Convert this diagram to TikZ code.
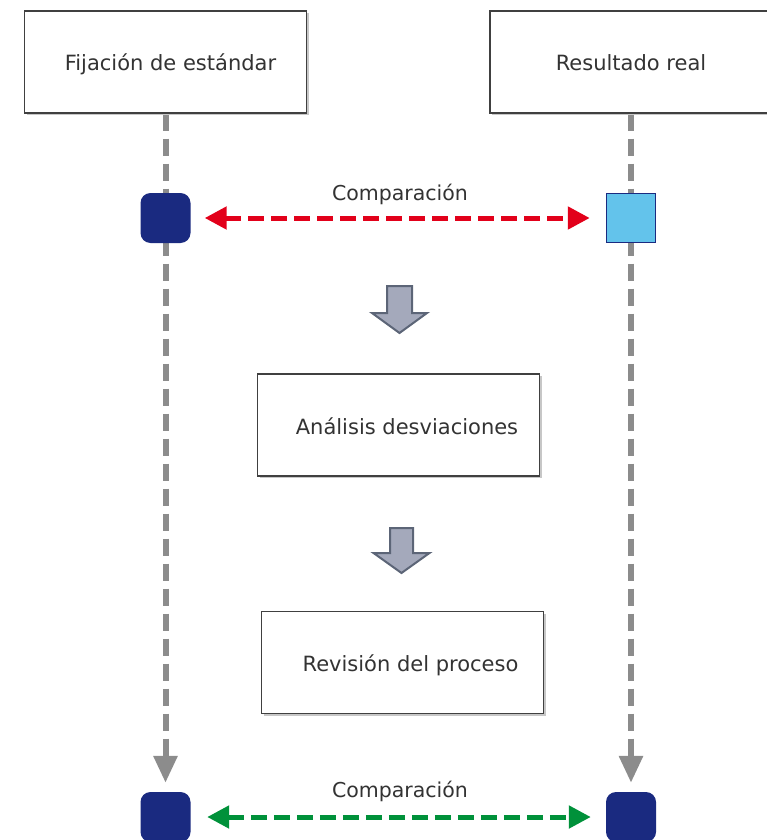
\documentclass[tikz,border=0pt]{standalone}
\usepackage{fontspec}
\setmainfont{DejaVu Sans}
\usetikzlibrary{arrows.meta,shadows,backgrounds}
\definecolor{navy}{HTML}{1A2A80}
\definecolor{sky}{HTML}{63C3EB}
\definecolor{lifegray}{HTML}{8C8C8C}
\definecolor{cmpred}{HTML}{E2001A}
\definecolor{cmpgreen}{HTML}{00913A}
\definecolor{blockfill}{HTML}{A4A9BB}
\definecolor{blockline}{HTML}{5C6577}
\definecolor{txt}{HTML}{333333}
\begin{document}
\begin{tikzpicture}[x=1pt,y=-1pt,
  font=\fontsize{20.5}{24}\selectfont, text=txt,
  box/.style={draw=black!75, line width=1.3pt, fill=white, minimum width=282pt, minimum height=102pt, inner sep=0pt,
    font=\fontsize{21}{24}\selectfont, text height=18pt, text depth=0pt,
    drop shadow={shadow xshift=2pt, shadow yshift=-2pt, fill=black!22, opacity=1}},
  event/.style={fill=navy, rounded corners=10pt, minimum size=50pt, inner sep=0pt},
  result/.style={fill=sky, draw=navy, line width=1.5pt, minimum size=49pt, inner sep=0pt},
  lifeline/.style={draw=lifegray, line width=6pt, dash pattern=on 17pt off 8pt, -{Triangle[width=23pt,length=27pt]}},
  compare/.style={line width=5pt, dash pattern=on 16pt off 7pt, {Triangle[width=22pt,length=22pt]}-{Triangle[width=22pt,length=22pt]}},
  blockarrow/.style={fill=blockfill, draw=blockline, line width=2pt, line join=miter}
]
\useasboundingbox (0,0) rectangle (767,840);
\node[box] (std) at (165.5,62) {\hspace*{10pt}Fijación de estándar};
\node[box] (real) at (631,62) {Resultado real};
\node[event] (s1) at (165.5,218) {};
\node[result] (r1) at (631,218) {};
\node[event] (s2) at (165.5,817) {};
\node[event] (r2) at (631,817) {};
\node[box] (ana) at (398.5,425) {\hspace*{17pt}Análisis desviaciones};
\node[box] (rev) at (402.5,662.5) {\hspace*{16pt}Revisión del proceso};
\node[anchor=base] (c1) at (400,200) {Comparación};
\node[anchor=base] (c2) at (400,797) {Comparación};
\begin{scope}[on background layer]
  \draw[lifeline, shorten >=9pt] (std.south) -- (s2.north);
  \draw[lifeline, shorten >=9pt] (real.south) -- (r2.north);
\end{scope}
\draw[compare, draw=cmpred, shorten <=14pt, shorten >=16pt] (s1.east) -- (r1.west);
\draw[compare, draw=cmpgreen, shorten <=16.5pt, shorten >=15pt] (s2.east) -- (r2.west);
\draw[blockarrow] (387,286) -- (412,286) -- (412,313) -- (427,313) -- (399.5,333) -- (372,313) -- (387,313) -- cycle;
\draw[blockarrow] (390,528) -- (413,528) -- (413,553) -- (429.5,553) -- (401.5,573) -- (373.5,553) -- (390,553) -- cycle;
\end{tikzpicture}
\end{document}
